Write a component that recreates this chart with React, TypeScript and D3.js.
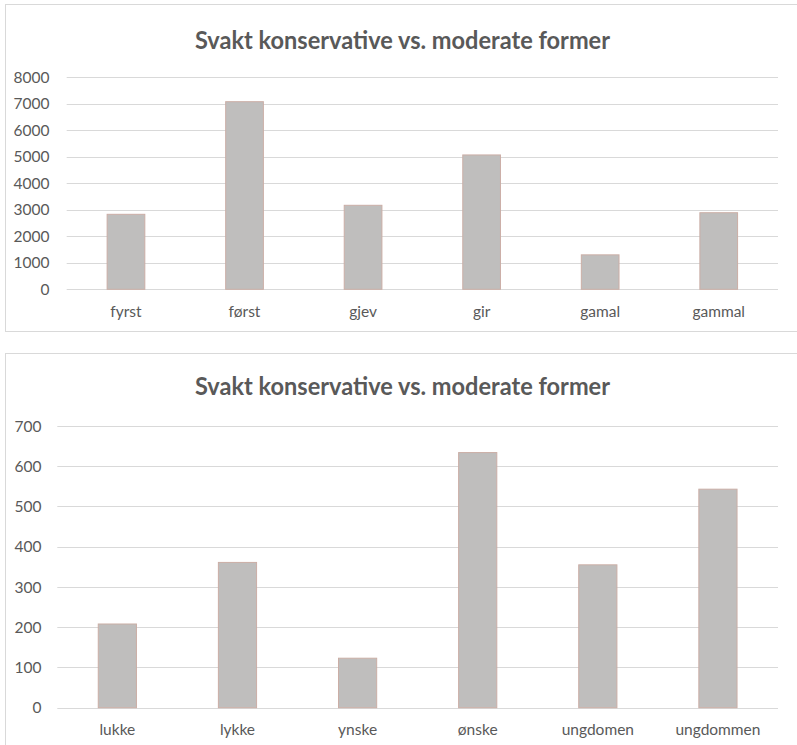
import React from "react";
import * as d3 from "d3";

const title = "Svakt konservative vs. moderate former";

const topCategories = ["fyrst", "først", "gjev", "gir", "gamal", "gammal"];
const topValues = [2830, 7080, 3170, 5070, 1300, 2890];
const topTicks = [0, 1000, 2000, 3000, 4000, 5000, 6000, 7000, 8000];

const bottomCategories = ["lukke", "lykke", "ynske", "ønske", "ungdomen", "ungdommen"];
const bottomValues = [208, 361, 123, 634, 355, 543];
const bottomTicks = [0, 100, 200, 300, 400, 500, 600, 700];

const TEXT = "#595959";
const GRID = "#d9d9d9";
const BAR = "#bfbebd";
const BAR_EDGE = "#cbaea6";
const FONT = "Lato, 'Open Sans', sans-serif";

type ChartProps = {
  boxY: number;
  boxH: number;
  titleY: number;
  x0: number;
  x1: number;
  yTop: number;
  yBottom: number;
  yMax: number;
  labelX: number;
  catY: number;
  categories: string[];
  values: number[];
  ticks: number[];
};

function Chart(p: ChartProps) {
  const x = d3
    .scaleBand<string>()
    .domain(p.categories)
    .range([p.x0, p.x1])
    .paddingInner(0.682)
    .paddingOuter(0.341);
  const y = d3.scaleLinear().domain([0, p.yMax]).range([p.yBottom, p.yTop]);
  return (
    <g>
      <rect x={5.5} y={p.boxY + 0.5} width={900} height={p.boxH} fill="#fff" stroke={GRID} strokeWidth={1} />
      <text
        x={402.5}
        y={p.titleY}
        textAnchor="middle"
        fontFamily={FONT}
        fontWeight={700}
        fontSize={24}
        fill={TEXT}
        textLength={415}
        lengthAdjust="spacingAndGlyphs"
      >
        {title}
      </text>
      {p.ticks.map((t) => (
        <g key={t}>
          <line x1={p.x0} x2={p.x1} y1={Math.round(y(t)) + 0.5} y2={Math.round(y(t)) + 0.5} stroke={GRID} strokeWidth={1} />
          <text x={p.labelX} y={y(t)} dy="0.36em" textAnchor="end" fontFamily={FONT} fontSize={15.5} fill={TEXT}>
            {t}
          </text>
        </g>
      ))}
      {p.categories.map((c, i) => (
        <g key={c}>
          <rect
            x={x(c)!}
            y={y(p.values[i])}
            width={x.bandwidth()}
            height={y(0) - y(p.values[i])}
            fill={BAR}
            stroke={BAR_EDGE}
            strokeWidth={1}
          />
          <text x={x(c)! + x.bandwidth() / 2} y={p.catY} dy="0.36em" textAnchor="middle" fontFamily={FONT} fontSize={15.5} fill={TEXT}>
            {c}
          </text>
        </g>
      ))}
    </g>
  );
}

export default function App() {
  return (
    <svg
      width={797}
      height={745}
      style={{ position: "absolute", left: 0, top: 0, background: "#fff" }}
    >
      <rect width={797} height={745} fill="#fff" />
      <Chart
        boxY={4}
        boxH={327}
        titleY={48.5}
        x0={66.7}
        x1={778}
        yTop={77.3}
        yBottom={289.3}
        yMax={8000}
        labelX={49.5}
        catY={311.7}
        categories={topCategories}
        values={topValues}
        ticks={topTicks}
      />
      <Chart
        boxY={353}
        boxH={500}
        titleY={395}
        x0={57.3}
        x1={778}
        yTop={426}
        yBottom={707.7}
        yMax={700}
        labelX={41.5}
        catY={729.3}
        categories={bottomCategories}
        values={bottomValues}
        ticks={bottomTicks}
      />
    </svg>
  );
}
